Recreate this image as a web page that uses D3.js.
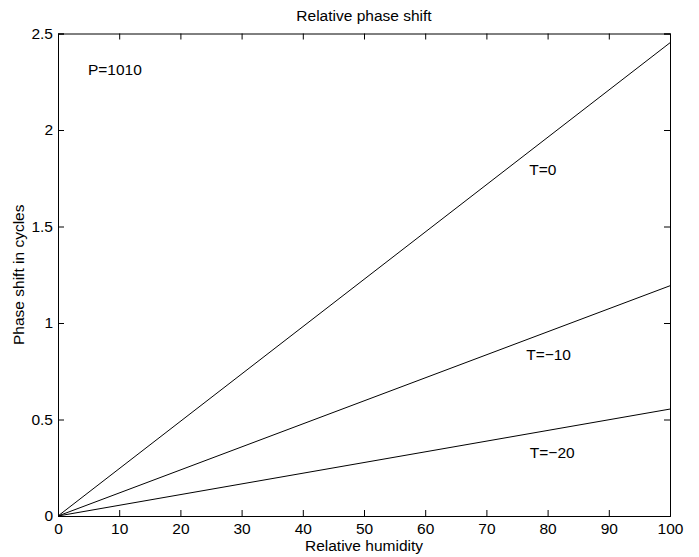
<!DOCTYPE html>
<html><head><meta charset="utf-8">
<script src="https://cdn.jsdelivr.net/npm/d3@7"></script>
<style>body{margin:0;background:#fff}svg{display:block}text{font-family:"Liberation Sans",Arial,sans-serif;fill:#000}</style>
</head><body>
<script>
const humidity = [0, 100];
const seriesT0 = [0, 2.452];
const seriesTm10 = [0, 1.193];
const seriesTm20 = [0, 0.554];
const seriesNames = ["T=0", "T=\u221210", "T=\u221220"];
const xTicks = [0,10,20,30,40,50,60,70,80,90,100];
const yTicks = [0,0.5,1,1.5,2,2.5];
const yTickLabels = ["0","0.5","1","1.5","2","2.5"];

const W=699,H=557;
const m={l:58,r:29,t:33.5,b:41};
const svg=d3.select("body").append("svg").attr("width",W).attr("height",H);
const x=d3.scaleLinear().domain([0,100]).range([m.l,W-m.r]);
const y=d3.scaleLinear().domain([0,2.5]).range([H-m.b,m.t]);
const fs=15.5, tl=6;

const gx=svg.append("g").attr("transform",`translate(0,${H-m.b})`)
  .call(d3.axisBottom(x).tickValues(xTicks).tickSize(-tl).tickPadding(tl+4));
const gxt=svg.append("g").attr("transform",`translate(0,${m.t})`)
  .call(d3.axisTop(x).tickValues(xTicks).tickSize(-tl).tickFormat(""));
const gy=svg.append("g").attr("transform",`translate(${m.l},0)`)
  .call(d3.axisLeft(y).tickValues(yTicks).tickSize(-tl).tickPadding(5).tickFormat((d,i)=>yTickLabels[i]));
const gyr=svg.append("g").attr("transform",`translate(${W-m.r},0)`)
  .call(d3.axisRight(y).tickValues(yTicks).tickSize(-tl).tickFormat(""));
[gx,gxt,gy,gyr].forEach(g=>{
  g.selectAll("path.domain").attr("stroke","#000").attr("stroke-width",1);
  g.selectAll(".tick line").attr("stroke","#000").attr("stroke-width",1);
  g.selectAll("text").attr("font-size",fs).attr("font-family","Liberation Sans, Arial, sans-serif").attr("fill","#000");
});
gx.selectAll(".tick text").attr("dy","0").attr("y",17.5);

const line=d3.line().x((d,i)=>x(humidity[i])).y(d=>y(d));
[seriesT0,seriesTm10,seriesTm20].forEach(s=>{
  svg.append("path").datum(s).attr("d",line).attr("fill","none").attr("stroke","#000").attr("stroke-width",1);
});

const labelPos=[[77,1.765],[76.5,0.808],[77.1,0.30]];
seriesNames.forEach((n,i)=>{
  svg.append("text").attr("x",x(labelPos[i][0])).attr("y",y(labelPos[i][1])).attr("font-size",fs).text(n);
});
svg.append("text").attr("x",x(4.9)).attr("y",y(2.285)).attr("font-size",fs).text("P=1010");

svg.append("text").attr("x",(m.l+W-m.r)/2).attr("y",21).attr("text-anchor","middle").attr("font-size",fs).text("Relative phase shift");
svg.append("text").attr("x",(m.l+W-m.r)/2).attr("y",551).attr("text-anchor","middle").attr("font-size",fs).text("Relative humidity");
svg.append("text").attr("transform",`translate(24,${(m.t+H-m.b)/2}) rotate(-90)`).attr("text-anchor","middle").attr("font-size",fs).text("Phase shift in cycles");
</script>
</body></html>
